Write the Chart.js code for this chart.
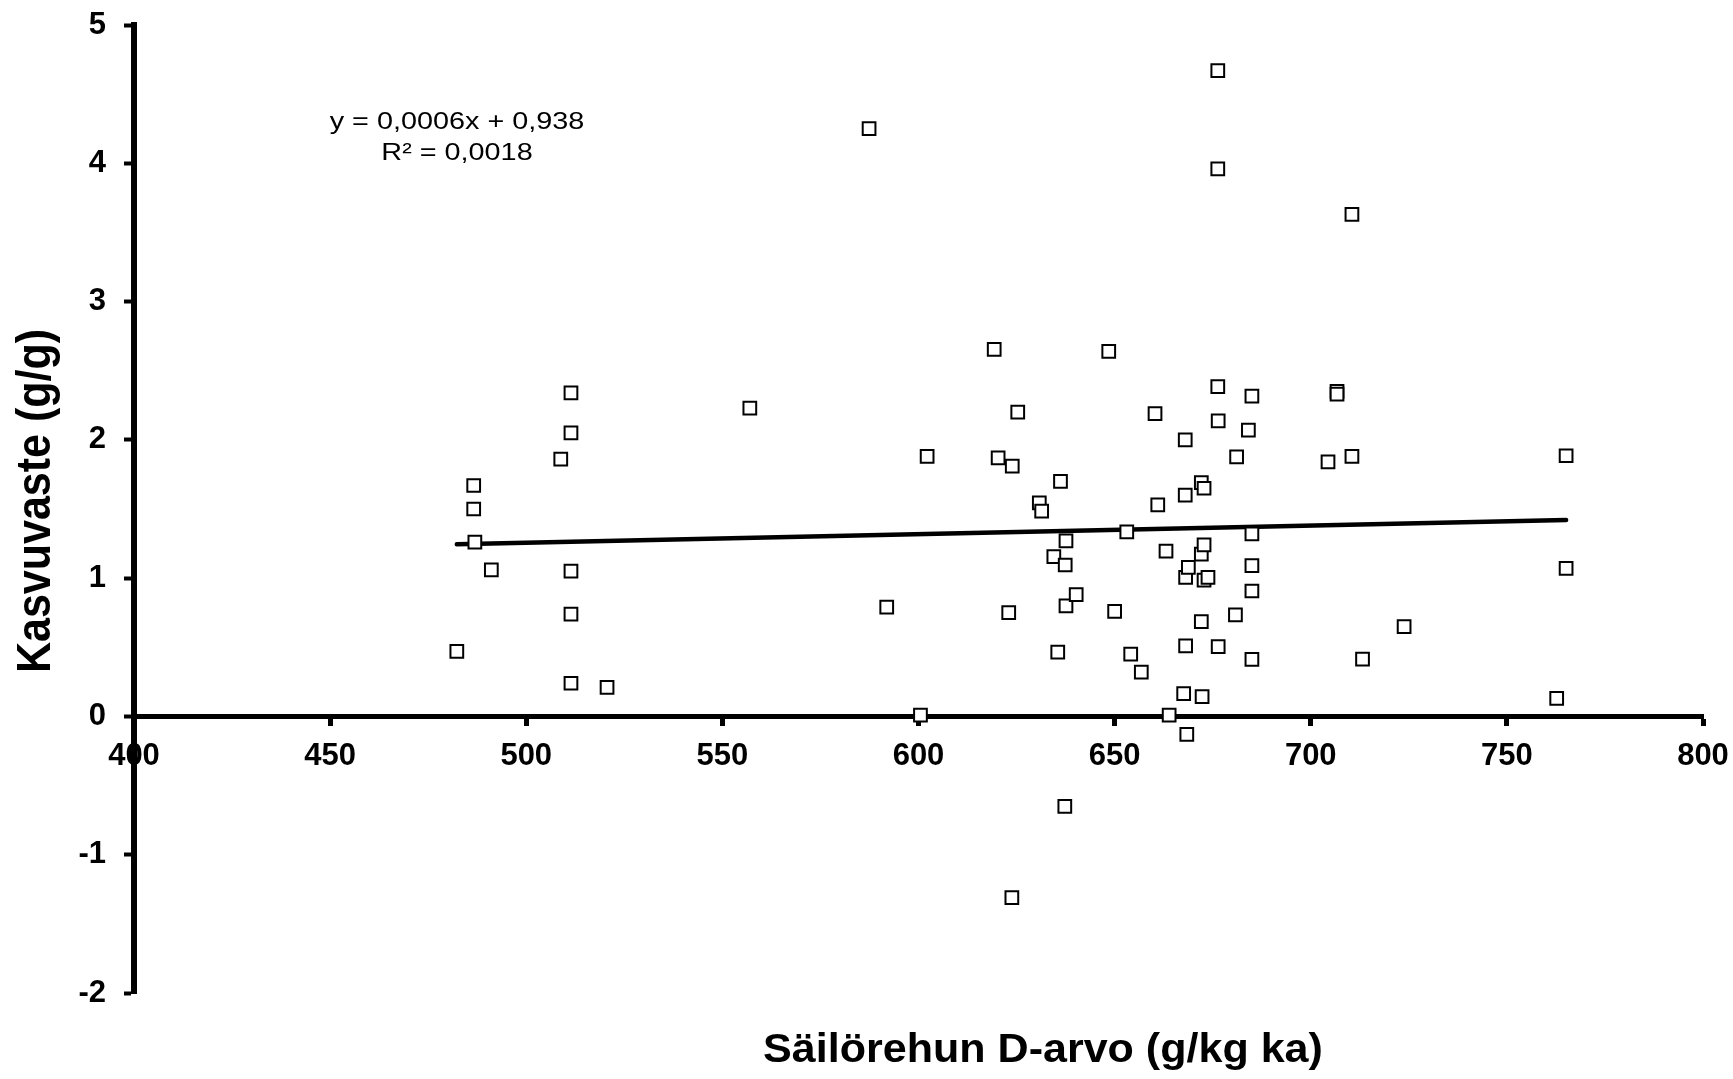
<!DOCTYPE html>
<html>
<head>
<meta charset="utf-8">
<title>Kasvuvaste vs D-arvo</title>
<script src="https://cdn.jsdelivr.net/npm/chart.js@4.4.1/dist/chart.umd.min.js"></script>
<style>
  body { margin: 0; background: #fff; }
  #wrap { width: 1733px; height: 1079px; }
</style>
</head>
<body>
<div id="wrap"><canvas id="myChart"></canvas></div>
<script>
'use strict';

// D-arvo (g/kg ka) of each sample
let dArvo = [
    482.3, 486.6, 486.6, 486.9, 491.1, 508.8, 511.4, 511.4, 511.4, 511.4,
    511.4, 520.6, 557.0, 587.4, 591.9, 600.5, 602.2, 619.3, 620.3, 623.0,
    623.8, 623.9, 625.3, 630.8, 631.4, 634.5, 635.5, 636.2, 637.3, 637.4,
    637.6, 637.6, 640.2, 648.5, 650.0, 653.1, 654.1, 656.8, 660.3, 661.0,
    663.1, 663.9, 667.6, 668.0, 668.0, 668.1, 668.1, 668.4, 668.8, 672.1,
    672.1, 672.1, 672.3, 672.8, 672.8, 672.8, 673.8, 676.3, 676.3, 676.3,
    676.4, 676.4, 681.1, 680.8, 684.1, 685.0, 685.0, 685.0, 685.0, 685.0,
    704.4, 706.7, 706.7, 710.5, 710.5, 713.2, 723.8, 762.7, 765.1, 765.1
];
// Kasvuvaste (g/g) of each sample
let kasvu = [
    0.47, 1.67, 1.50, 1.26, 1.06, 1.86, 2.34, 2.05, 1.05, 0.74,
    0.24, 0.21, 2.23, 4.25, 0.79, 0.01, 1.88, 2.655, 1.87, 0.75,
    -1.31, 1.81, 2.20, 1.545, 1.485, 1.155, 0.465, 1.70, -0.65, 1.095,
    1.27, 0.80, 0.88, 2.64, 0.76, 1.335, 0.45, 0.32, 2.19, 1.53,
    1.196, 0.01, 0.165, 2.00, 1.60, 1.006, 0.51, -0.13, 1.078, 1.69,
    1.174, 0.685, 0.143, 1.65, 1.24, 0.986, 1.006, 4.67, 3.96, 2.385,
    2.137, 0.505, 1.877, 0.735, 2.07, 2.316, 1.32, 1.09, 0.907, 0.413,
    1.84, 2.35, 2.33, 3.63, 1.88, 0.415, 0.65, 0.13, 1.885, 1.07
];

// linear trend line end points
let trendX = [482.3, 765.1];
let trendY = [1.245, 1.421];

let xTicks = [400, 450, 500, 550, 600, 650, 700, 750, 800];
let yTicks = [-2, -1, 0, 1, 2, 3, 4, 5];

let equationText = ['y = 0,0006x + 0,938', 'R² = 0,0018'];
let xTitle = 'Säilörehun D-arvo (g/kg ka)';
let yTitle = 'Kasvuvaste (g/g)';

let points = [];
for (let i = 0; i < dArvo.length; i++) {
    points.push({ x: dArvo[i], y: kasvu[i] });
}
let trend = [];
for (let i = 0; i < trendX.length; i++) {
    trend.push({ x: trendX[i], y: trendY[i] });
}

// titles and the trend equation, drawn on top
let textPlugin = {
    id: 'texts',
    afterDraw(chart) {
        let ctx = chart.ctx;
        ctx.save();
        ctx.fillStyle = '#000';

        // equation
        ctx.font = '24px "Liberation Sans", Arial, sans-serif';
        ctx.textAlign = 'center';
        ctx.textBaseline = 'alphabetic';
        ctx.save();
        ctx.translate(457, 0);
        ctx.scale(1.2, 1);
        ctx.fillText(equationText[0], 0, 129);
        ctx.fillText(equationText[1], 0, 160);
        ctx.restore();

        // x title
        ctx.font = 'bold 41px "Liberation Sans", Arial, sans-serif';
        ctx.save();
        ctx.translate(1043, 1062);
        ctx.scale(1.05, 1);
        ctx.fillText(xTitle, 0, 0);
        ctx.restore();

        // y title
        ctx.font = 'bold 43px "Liberation Sans", Arial, sans-serif';
        ctx.save();
        ctx.translate(50, 501);
        ctx.rotate(-Math.PI / 2);
        ctx.scale(1, 1.14);
        ctx.fillText(yTitle, 0, 0);
        ctx.restore();

        ctx.restore();
    }
};

// the layout padding alone decides where the plot area sits
function noLabelPadding(scale) {
    scale.paddingTop = 0;
    scale.paddingBottom = 0;
    scale.paddingLeft = 0;
    scale.paddingRight = 0;
}

let tickFont = { family: '"Liberation Sans", Arial, sans-serif', size: 31, weight: 'bold' };

let ctx = document.getElementById('myChart').getContext('2d');
let myChart = new Chart(ctx, {
    type: 'scatter',
    data: {
        datasets: [{
            data: points,
            pointStyle: 'rect',
            pointRadius: 9,
            pointHoverRadius: 9,
            borderWidth: 2,
            borderColor: '#000',
            backgroundColor: '#fff'
        }, {
            data: trend,
            showLine: true,
            borderColor: '#000',
            borderWidth: 4.5,
            borderCapStyle: 'round',
            pointRadius: 0,
            pointHoverRadius: 0
        }]
    },
    options: {
        responsive: true,
        maintainAspectRatio: false,
        animation: false,
        events: [],
        layout: {
            padding: { top: 25, right: 30, left: 0, bottom: 86 }
        },
        plugins: {
            legend: { display: false },
            tooltip: { enabled: false }
        },
        scales: {
            x: {
                type: 'linear',
                position: { y: 0 },
                min: xTicks[0],
                max: xTicks[xTicks.length - 1],
                afterBuildTicks: function (scale) {
                    scale.ticks = xTicks.map(v => ({ value: v }));
                },
                afterFit: noLabelPadding,
                ticks: {
                    font: tickFont,
                    color: '#000',
                    padding: 14,
                    maxRotation: 0,
                    autoSkip: false
                },
                grid: {
                    display: true,
                    drawOnChartArea: false,
                    drawTicks: true,
                    tickLength: 7,
                    tickWidth: 5,
                    tickColor: '#000'
                },
                border: { display: true, color: '#000', width: 5 }
            },
            y: {
                type: 'linear',
                position: 'left',
                min: yTicks[0],
                max: yTicks[yTicks.length - 1],
                afterBuildTicks: function (scale) {
                    scale.ticks = yTicks.map(v => ({ value: v }));
                },
                afterFit: function (scale) {
                    noLabelPadding(scale);
                    scale.width = 134;
                },
                ticks: {
                    font: tickFont,
                    color: '#000',
                    padding: 18,
                    autoSkip: false
                },
                grid: {
                    display: true,
                    drawOnChartArea: false,
                    drawTicks: true,
                    tickLength: 10,
                    tickWidth: 4,
                    tickColor: '#000'
                },
                border: { display: true, color: '#000', width: 6 }
            }
        }
    },
    plugins: [textPlugin]
});
</script>
</body>
</html>
